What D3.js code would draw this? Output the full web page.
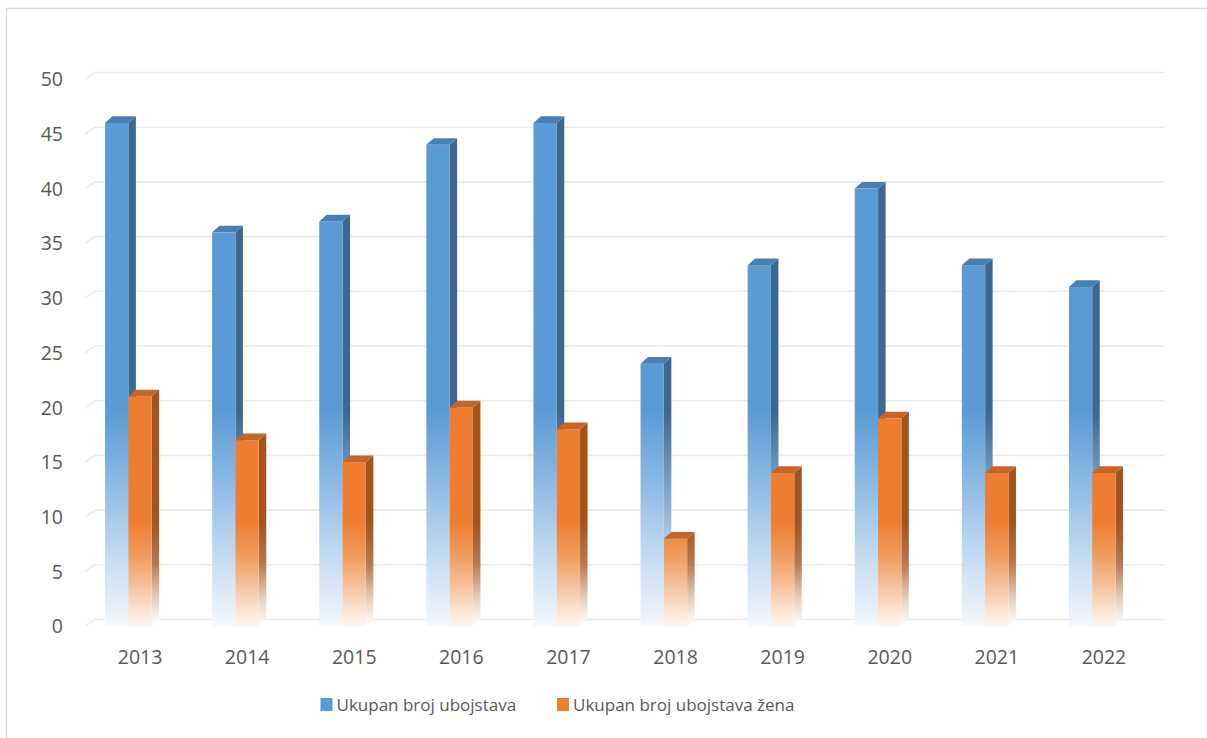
<!DOCTYPE html>
<html>
<head>
<meta charset="utf-8">
<script src="https://cdn.jsdelivr.net/npm/d3@7"></script>
<style>
  body { margin: 0; background: #fff; }
  text { font-family: "Open Sans", "Noto Sans", sans-serif; fill: #595959; }
</style>
</head>
<body>
<div id="chart"></div>
<script>
var years = ["2013", "2014", "2015", "2016", "2017", "2018", "2019", "2020", "2021", "2022"];
var totalKillings = [46, 36, 37, 44, 46, 24, 33, 40, 33, 31];
var femaleKillings = [21, 17, 15, 20, 18, 8, 14, 19, 14, 14];
var yTicks = [0, 5, 10, 15, 20, 25, 30, 35, 40, 45, 50];
var seriesNames = ["Ukupan broj ubojstava", "Ukupan broj ubojstava žena"];

var width = 1207, height = 738;
var depthX = 7.5, depthY = 6.7;   // 3d offset of the bars
var wallX = 10, wallY = 6.8;      // offset of the floor / back wall
var barW = 23.3;

var svg = d3.select("#chart").append("svg")
  .attr("width", width)
  .attr("height", height);

// chart border
svg.append("rect")
  .attr("x", 6.5).attr("y", 8.5)
  .attr("width", 1300).attr("height", 800)
  .attr("fill", "none")
  .attr("stroke", "#d9d9d9")
  .attr("stroke-width", 1.5);

var x = d3.scaleBand().domain(years).range([86.5, 1157.5]);
var y = d3.scaleLinear().domain([0, 50]).range([619.5, 72.5]);

var defs = svg.append("defs");

function fade(id, stops) {
  var g = defs.append("linearGradient")
    .attr("id", id)
    .attr("gradientUnits", "userSpaceOnUse")
    .attr("x1", 0).attr("x2", 0)
    .attr("y1", y(50)).attr("y2", y(0) + depthY);
  stops.forEach(function(s) {
    g.append("stop")
      .attr("offset", (y(s[0]) - y(50)) / (y(0) + depthY - y(50)))
      .attr("stop-color", s[1]);
  });
}

fade("blueFront", [[50, "#5b9bd5"], [19, "#5b9bd5"], [14, "#80b2e0"], [9, "#a9cbeb"], [4, "#d2e3f4"], [1, "#e6eff9"], [-0.6, "#f6f9fd"]]);
fade("blueSide", [[50, "#3b6790"], [19, "#3b6790"], [12, "#7ea4c9"], [5, "#c9dcef"], [-0.6, "#f4f8fc"]]);
fade("orangeFront", [[50, "#ed7d31"], [9, "#ed7d31"], [6, "#f09a5c"], [3.5, "#f5bb92"], [1, "#fbe1ce"], [-0.6, "#fff6ef"]]);
fade("orangeSide", [[50, "#a2531e"], [9, "#a2531e"], [5, "#b87a52"], [2, "#e6cdbb"], [-0.6, "#ffffff"]]);

// gridlines with the floor slant on the left
svg.append("g").selectAll("path")
  .data(yTicks).enter()
  .append("path")
  .attr("d", function(d) {
    return "M" + (x.range()[0] - 1.5) + "," + (y(d) + wallY) +
      "L" + (x.range()[0] + wallX - 1.5) + "," + y(d) +
      "L1165," + y(d);
  })
  .attr("fill", "none")
  .attr("stroke", "#ebebeb")
  .attr("stroke-width", 1.6);

svg.append("g").selectAll("text")
  .data(yTicks).enter()
  .append("text")
  .attr("x", 63)
  .attr("y", function(d) { return y(d) + wallY; })
  .attr("dy", "0.36em")
  .attr("text-anchor", "end")
  .attr("font-size", 19.5)
  .text(function(d) { return d; });

svg.append("g").selectAll("text")
  .data(years).enter()
  .append("text")
  .attr("x", function(d) { return x(d) + x.bandwidth() / 2; })
  .attr("y", 657)
  .attr("dy", "0.36em")
  .attr("text-anchor", "middle")
  .attr("font-size", 19.5)
  .text(function(d) { return d; });

function drawBars(values, offset, front, side, top) {
  var g = svg.append("g").selectAll("g")
    .data(years).enter()
    .append("g");

  g.each(function(d, i) {
    var el = d3.select(this);
    var x0 = x(d) + x.bandwidth() / 2 - 35 + offset;
    var yb = y(values[i]);          // back top edge
    var yf = yb + depthY;           // front top edge
    var y0 = y(0) + depthY;         // front bottom edge

    el.append("path")
      .attr("d", "M" + (x0 + barW) + "," + yf + "L" + (x0 + barW + depthX) + "," + yb +
        "L" + (x0 + barW + depthX) + "," + y(0) + "L" + (x0 + barW) + "," + y0 + "Z")
      .attr("fill", "url(#" + side + ")");

    el.append("rect")
      .attr("x", x0).attr("y", yf)
      .attr("width", barW).attr("height", y0 - yf)
      .attr("fill", "url(#" + front + ")");

    el.append("path")
      .attr("d", "M" + x0 + "," + yf + "L" + (x0 + depthX) + "," + yb +
        "L" + (x0 + barW + depthX) + "," + yb + "L" + (x0 + barW) + "," + yf + "Z")
      .attr("fill", top);
  });
}

drawBars(totalKillings, 0, "blueFront", "blueSide", "#4a7fb4");
drawBars(femaleKillings, barW, "orangeFront", "orangeSide", "#c4662a");

// legend
var legendColors = ["#5b9bd5", "#ed7d31"];
var legendX = [320.5, 557];
var legend = svg.append("g").selectAll("g")
  .data(seriesNames).enter()
  .append("g")
  .attr("transform", function(d, i) { return "translate(" + legendX[i] + ",698)"; });

legend.append("rect")
  .attr("width", 12).attr("height", 13)
  .attr("fill", function(d, i) { return legendColors[i]; });

legend.append("text")
  .attr("x", 16)
  .attr("y", 6.5)
  .attr("dy", "0.36em")
  .attr("font-size", 17)
  .text(function(d) { return d; });
</script>
</body>
</html>
